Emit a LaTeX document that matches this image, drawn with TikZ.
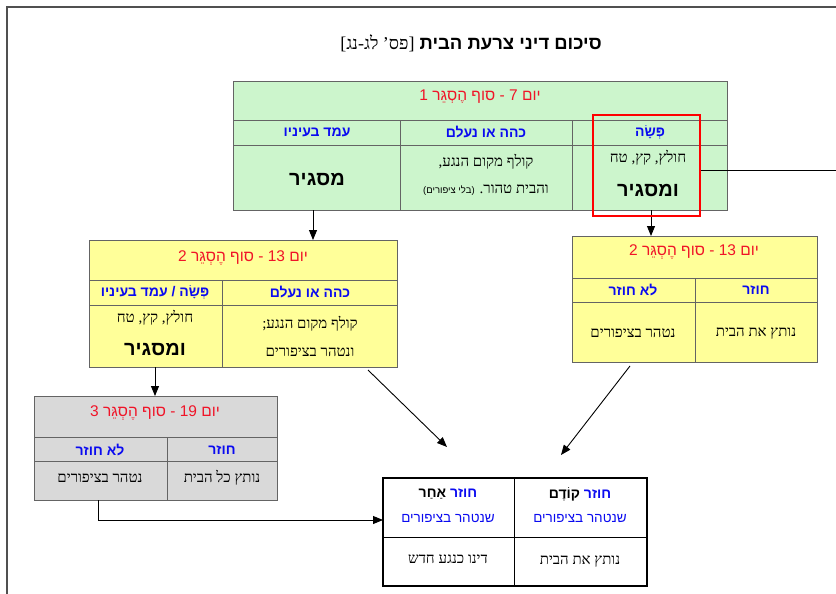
\documentclass[tikz,border=0pt]{standalone}
\usepackage{fontspec}
\setmainfont{Liberation Serif}[Script=Hebrew]
\newfontfamily\hsans{Liberation Sans}[Script=Hebrew]
\TeXXeTstate=1
\usetikzlibrary{arrows.meta}
\definecolor{gfill}{RGB}{204,245,204}
\definecolor{yfill}{RGB}{255,255,153}
\definecolor{grfill}{RGB}{217,217,217}
\definecolor{redtxt}{RGB}{240,20,40}
\definecolor{bluetxt}{RGB}{10,10,240}
\definecolor{edge}{RGB}{100,100,100}
\newcommand\heb[1]{\beginR#1\endR}
\begin{document}
\begin{tikzpicture}[x=1pt,y=-1pt,
 box/.style={draw=edge, line width=0.8pt, inner sep=0pt, outer sep=0pt},
 sep/.style={draw=edge, line width=0.8pt},
 hd/.style={text=redtxt, inner sep=1pt, font=\hsans\fontsize{15.5}{17}\selectfont},
 sub/.style={text=bluetxt, inner sep=1pt, font=\hsans\bfseries\fontsize{14}{16}\selectfont},
 txt/.style={inner sep=1pt, font=\fontsize{15}{17}\selectfont, align=center},
 big/.style={inner sep=1pt, font=\hsans\bfseries\fontsize{20}{22}\selectfont},
 arr/.style={-{Triangle[length=10pt,width=8pt]}, line width=0.9pt},
]
\useasboundingbox (0,0) rectangle (836,594);
\fill[white] (0,0) rectangle (836,594);
\draw[line width=2pt, edge!80!black] (7,594) -- (7,7.5) -- (836,7.5);

% title
\node (title) at (471,43) {\heb{{\hsans\bfseries\fontsize{18.5}{20}\selectfont סיכום דיני צרעת הבית}\ \ {\fontsize{18}{20}\selectfont [פס' לג-נג]}}};

% green box
\node[box, fill=gfill, minimum width=494, minimum height=129] (g) at (480,145.5) {};
\draw[sep] (233,120) -- (727,120);
\draw[sep] (233,145) -- (727,145);
\draw[sep] (400,120) -- (400,210);
\draw[sep] (572,120) -- (572,210);
\node[hd] (g-h) at (480,97) {\heb{יום 7 - סוף הֶסְגֵּר 1}};
\node[sub] (g-s1) at (650,132) {\heb{פְּשָׂה}};
\node[sub] (g-s2) at (486,132) {\heb{כהה או נעלם}};
\node[sub] (g-s3) at (317,132) {\heb{עמד בעיניו}};
\node[txt] (g-b1a) at (648,158) {\heb{חולץ, קץ, טח}};
\node[big] (g-b1b) at (648,191) {\heb{ומסגיר}};
\node[txt] (g-b2a) at (486,162) {\heb{קולף מקום הנגע,}};
\node[txt] (g-b2b) at (486,190) {\heb{והבית טהור. {\hsans\fontsize{9.5}{10}\selectfont (בלי ציפורים)}}};
\node[big] (g-b3) at (317,180) {\heb{מסגיר}};

% yellow left
\node[box, fill=yfill, minimum width=308, minimum height=127] (yl) at (243,303.5) {};
\draw[sep] (89,280) -- (397,280);
\draw[sep] (89,305) -- (397,305);
\draw[sep] (222,280) -- (222,367);
\node[hd] (yl-h) at (243,258) {\heb{יום 13 - סוף הֶסְגֵּר 2}};
\node[sub] (yl-s1) at (310,292) {\heb{כהה או נעלם}};
\node[sub] (yl-s2) at (155,292) {\heb{פְּשָׂה / עמד בעיניו}};
\node[txt] (yl-b1a) at (310,324) {\heb{קולף מקום הנגע;}};
\node[txt] (yl-b1b) at (310,352) {\heb{ונטהר בציפורים}};
\node[txt] (yl-b2a) at (155,318) {\heb{חולץ, קץ, טח}};
\node[big] (yl-b2b) at (155,350) {\heb{ומסגיר}};

% yellow right
\node[box, fill=yfill, minimum width=245, minimum height=126] (yr) at (694.5,299) {};
\draw[sep] (572,278) -- (817,278);
\draw[sep] (572,302) -- (817,302);
\draw[sep] (695,278) -- (695,362);
\node[hd] (yr-h) at (694,252) {\heb{יום 13 - סוף הֶסְגֵּר 2}};
\node[sub] (yr-s1) at (756,290) {\heb{חוזר}};
\node[sub] (yr-s2) at (633,290) {\heb{לא חוזר}};
\node[txt] (yr-b1) at (756,333) {\heb{נותץ את הבית}};
\node[txt] (yr-b2) at (633,333) {\heb{נטהר בציפורים}};

% gray box
\node[box, fill=grfill, minimum width=243, minimum height=104] (gr) at (155.5,448) {};
\draw[sep] (34,437) -- (277,437);
\draw[sep] (34,461) -- (277,461);
\draw[sep] (167,437) -- (167,500);
\node[hd] (gr-h) at (155,413) {\heb{יום 19 - סוף הֶסְגֵּר 3}};
\node[sub] (gr-s1) at (222,450) {\heb{חוזר}};
\node[sub] (gr-s2) at (100,450) {\heb{לא חוזר}};
\node[txt] (gr-b1) at (222,478) {\heb{נותץ כל הבית}};
\node[txt] (gr-b2) at (100,478) {\heb{נטהר בציפורים}};

% bottom box
\node[box, draw=black, line width=1.3pt, fill=white, minimum width=264, minimum height=108] (bt) at (515,532) {};
\draw[line width=1pt] (383,537) -- (647,537);
\draw[line width=1pt] (514,478) -- (514,586);
\node[sub] (bt-s1) at (580,494) {\textcolor{black}{\heb{קוֹדֶם}}\ \heb{חוזר}};
\node[sub] (bt-s2) at (448,494) {\textcolor{black}{\heb{אַחַר}}\ \heb{חוזר}};
\node[sub, font=\hsans\fontsize{13.5}{15}\selectfont] (bt-t1) at (580,518) {\heb{שנטהר בציפורים}};
\node[sub, font=\hsans\fontsize{13.5}{15}\selectfont] (bt-t2) at (448,518) {\heb{שנטהר בציפורים}};
\node[txt] (bt-b1) at (580,561) {\heb{נותץ את הבית}};
\node[txt] (bt-b2) at (448,559) {\heb{דינו כנגע חדש}};

% connectors
\coordinate (a1) at (313,0);
\coordinate (a2) at (651,0);
\coordinate (a3) at (155,0);
\coordinate (lend) at (836,170);
\coordinate (d1s) at (368,370);
\coordinate (d1e) at (447,447);
\coordinate (d2s) at (630,366);
\coordinate (d2e) at (561,455);
\coordinate (e1) at (98,520);
\draw[arr] (g.south -| a1) -- (yl.north -| a1);
\draw[arr] (g.south -| a2) -- (yr.north -| a2);
\draw[arr] (yl.south -| a3) -- (gr.north -| a3);
\draw[arr] (d1s) -- (d1e);
\draw[arr] (d2s) -- (d2e);
\draw[arr] (gr.south -| e1) |- (bt.west |- e1);

% highlight
\node[draw=red, line width=2.6pt, minimum width=107, minimum height=101, inner sep=0pt] (rb) at (646.5,165.5) {};
\draw[line width=0.9pt] (rb.east |- lend) -- (lend);
\end{tikzpicture}
\end{document}
